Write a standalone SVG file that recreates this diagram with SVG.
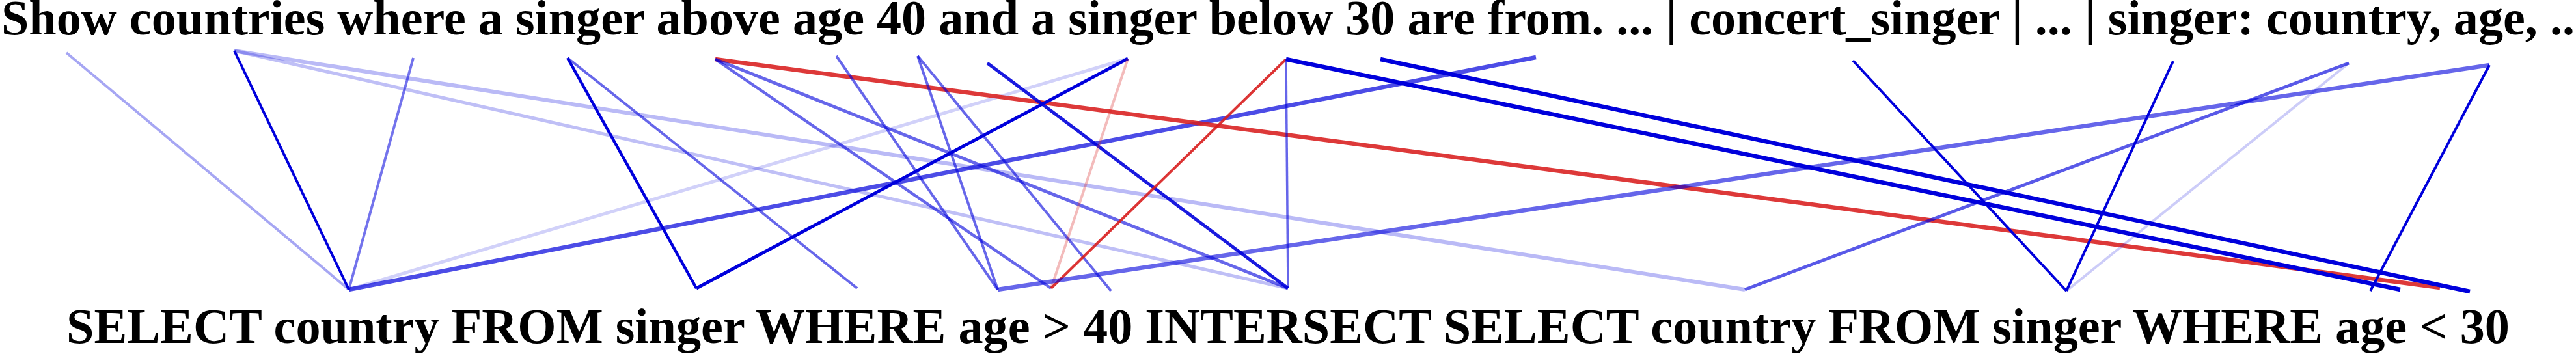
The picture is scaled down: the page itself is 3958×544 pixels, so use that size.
<svg xmlns="http://www.w3.org/2000/svg" width="3958" height="544" viewBox="0 0 3958 544">
<style>
text{font-family:"Liberation Serif","Times New Roman",serif;font-weight:bold;font-size:77px;fill:#000}
line{fill:none;stroke-linecap:butt}
.b{stroke:#0000dc}
.r{stroke:#d81e1e}
</style>
<rect width="3958" height="544" fill="#fff"/>
<g id="connectors">
<line class="b" x1="102" y1="81" x2="536" y2="445" stroke-width="4" stroke-opacity="0.35"/>
<line class="b" x1="360" y1="78" x2="536" y2="445" stroke-width="4" stroke-opacity="1"/>
<line class="b" x1="635" y1="89" x2="536" y2="445" stroke-width="4" stroke-opacity="0.55"/>
<line class="b" x1="360" y1="78" x2="2681" y2="445" stroke-width="6" stroke-opacity="0.27"/>
<line class="b" x1="360" y1="78" x2="1979" y2="443" stroke-width="5" stroke-opacity="0.25"/>
<line class="b" x1="872" y1="89" x2="1070" y2="443" stroke-width="4.5" stroke-opacity="1"/>
<line class="b" x1="872" y1="89" x2="1317" y2="443" stroke-width="4" stroke-opacity="0.6"/>
<line class="b" x1="536" y1="445" x2="1733" y2="90" stroke-width="5" stroke-opacity="0.18"/>
<line class="b" x1="536" y1="445" x2="2360" y2="88" stroke-width="6.5" stroke-opacity="0.7"/>
<line class="r" x1="1099" y1="91" x2="3749" y2="442" stroke-width="6.5" stroke-opacity="0.88"/>
<line class="b" x1="1099" y1="91" x2="1615" y2="443" stroke-width="4.5" stroke-opacity="0.6"/>
<line class="b" x1="1099" y1="91" x2="1979" y2="443" stroke-width="5" stroke-opacity="0.6"/>
<line class="b" x1="1285" y1="86" x2="1533" y2="445" stroke-width="4" stroke-opacity="0.6"/>
<line class="b" x1="1410" y1="86" x2="1533" y2="445" stroke-width="4" stroke-opacity="0.6"/>
<line class="b" x1="1410" y1="86" x2="1707" y2="447" stroke-width="4" stroke-opacity="0.6"/>
<line class="b" x1="1517" y1="97" x2="1979" y2="443" stroke-width="5" stroke-opacity="0.9"/>
<line class="b" x1="1733" y1="90" x2="1070" y2="443" stroke-width="5" stroke-opacity="1"/>
<line class="r" x1="1733" y1="90" x2="1615" y2="443" stroke-width="4" stroke-opacity="0.3"/>
<line class="r" x1="1976" y1="91" x2="1615" y2="443" stroke-width="4" stroke-opacity="0.9"/>
<line class="b" x1="1976" y1="91" x2="1979" y2="443" stroke-width="3.5" stroke-opacity="0.6"/>
<line class="b" x1="1976" y1="91" x2="3688" y2="445" stroke-width="6.5" stroke-opacity="1"/>
<line class="b" x1="1533" y1="445" x2="3825" y2="100" stroke-width="6.5" stroke-opacity="0.6"/>
<line class="b" x1="2121" y1="91" x2="3795" y2="448" stroke-width="6.5" stroke-opacity="1"/>
<line class="b" x1="2681" y1="445" x2="3609" y2="97" stroke-width="5" stroke-opacity="0.65"/>
<line class="b" x1="2847" y1="93" x2="3175" y2="447" stroke-width="4" stroke-opacity="1"/>
<line class="b" x1="3339" y1="94" x2="3175" y2="447" stroke-width="4" stroke-opacity="1"/>
<line class="b" x1="3609" y1="97" x2="3175" y2="447" stroke-width="4" stroke-opacity="0.2"/>
<line class="b" x1="3825" y1="100" x2="3642" y2="447" stroke-width="4" stroke-opacity="1"/>
</g>
<g id="source">
<text x="1979" y="53" text-anchor="middle" textLength="3954" lengthAdjust="spacingAndGlyphs">Show countries where a singer above age 40 and a singer below 30 are from. ... | concert_singer | ... | singer: country, age, ..</text>
</g>
<g id="target">
<text x="1979" y="527" text-anchor="middle" textLength="3754" lengthAdjust="spacingAndGlyphs">SELECT country FROM singer WHERE age &gt; 40 INTERSECT SELECT country FROM singer WHERE age &lt; 30</text>
</g>
</svg>
